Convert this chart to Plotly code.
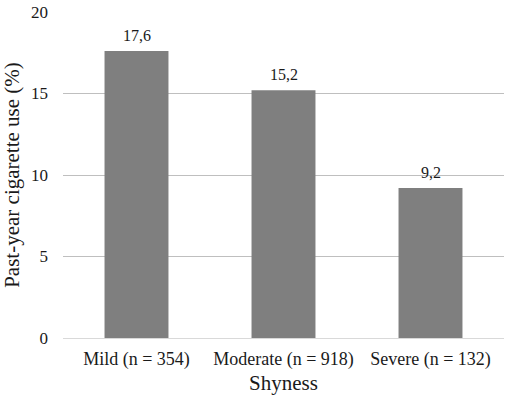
import plotly.graph_objects as go

categories = ["Mild (n = 354)", "Moderate (n = 918)", "Severe (n = 132)"]
values = [17.6, 15.2, 9.2]
y_ticks = [0, 5, 10, 15, 20]

font = "Liberation Serif, Times New Roman, serif"

fig = go.Figure(go.Bar(
    x=categories, y=values,
    marker=dict(color="#7f7f7f", line=dict(width=0)),
    cliponaxis=False,
))

for c, v in zip(categories, values):
    fig.add_annotation(
        x=c, y=v, text=f"{v:.1f}".replace(".", ","),
        showarrow=False, yanchor="bottom", yshift=5,
        font=dict(family=font, size=16, color="#1a1a1a"),
    )

fig.update_layout(
    width=507, height=408,
    margin=dict(l=63, r=3, t=10, b=70),
    paper_bgcolor="white", plot_bgcolor="white",
    bargap=0.565,
    font=dict(family=font, color="#1a1a1a"),
    showlegend=False,
    xaxis=dict(
        title=dict(text="Shyness", font=dict(size=21), standoff=6),
        tickfont=dict(size=18),
        ticklabelstandoff=8,
        showline=False, showgrid=False,
    ),
    yaxis=dict(
        title=dict(text="Past-year cigarette use (%)", font=dict(size=21), standoff=8),
        range=[0, 20], tickvals=y_ticks,
        tickfont=dict(size=17),
        showgrid=True, gridcolor="#bfbfbf", gridwidth=1,
        zeroline=True, zerolinecolor="#d9d9d9", zerolinewidth=1,
        ticklabelstandoff=14,
    ),
)

fig.write_html("out.html")
